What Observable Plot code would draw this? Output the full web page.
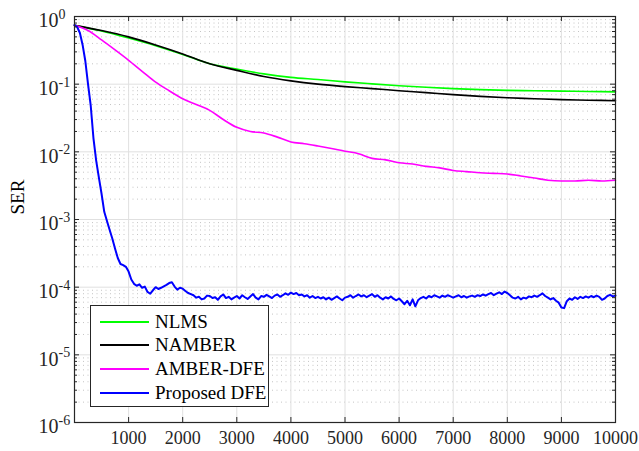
<!DOCTYPE html>
<html><head><meta charset="utf-8">
<script src="https://cdn.jsdelivr.net/npm/d3@7"></script>
<script src="https://cdn.jsdelivr.net/npm/@observablehq/plot@0.6"></script>
<style>
body{margin:0;background:#fff;}
#wrap{position:relative;width:639px;height:451px;font-family:"Liberation Serif","Times New Roman",serif;}
#legend{position:absolute;left:90px;top:305px;width:177px;height:100px;border:1px solid #262626;background:#fff;box-sizing:content-box;}
.row{position:absolute;left:0;height:24px;display:flex;align-items:center;font-size:19px;color:#000;font-family:"Liberation Serif","Times New Roman",serif;}
.sw{display:inline-block;width:49px;margin-left:9px;margin-right:6px;}
</style></head>
<body><div id="wrap"></div>
<script>
// ---- data ----
const seriesNames = ["NLMS","NAMBER","AMBER-DFE","Proposed DFE"];
const seriesColors = ["#00ff00","#000000","#ff00ff","#0000ff"];

const nlmsX = [0,500,1000,1500,2000,2500,3000,3500,4000,4500,5000,5500,6000,6500,7000,7500,8000,8500,9000,9500,10000];
const nlmsY = [0.74,0.61,0.48,0.37,0.275,0.20,0.167,0.142,0.126,0.117,0.108,0.101,0.095,0.090,0.086,0.083,0.081,0.080,0.079,0.078,0.077];

const namberX = [0,500,1000,1500,2000,2500,3000,3500,4000,4500,5000,5500,6000,6500,7000,7500,8000,8500,9000,9500,10000];
const namberY = [0.74,0.62,0.50,0.38,0.28,0.20,0.160,0.130,0.112,0.100,0.092,0.086,0.080,0.075,0.070,0.066,0.063,0.061,0.059,0.058,0.057];

const amberX = [0,250,500,750,1000,1250,1500,1750,2000,2250,2500,2750,3000,3250,3500,3750,4000,4250,4500,4750,5000,5250,5500,5750,6000,6250,6500,6750,7000,7250,7500,7750,8000,8250,8500,8750,9000,9250,9500,9750,10000];
const amberY = [0.74,0.62,0.45,0.32,0.225,0.155,0.107,0.080,0.061,0.050,0.041,0.030,0.023,0.020,0.019,0.0165,0.014,0.0132,0.0122,0.0112,0.0102,0.0094,0.0080,0.0076,0.0069,0.0066,0.0061,0.0058,0.0053,0.0051,0.0049,0.0048,0.0047,0.0044,0.0041,0.0038,0.0037,0.0037,0.0038,0.0037,0.0038];

const propHeadX = [0,50,100,150,200,250,300,350,400,450,500,550,600,650,700,750,800,850,900,950,1000,1050,1100,1150,1200,1250,1300,1350,1400,1450,1500,1550,1600,1650,1700,1750,1800,1850,1900,1950,2000];
const propHeadY = [0.75,0.70,0.57,0.38,0.22,0.10,0.048,0.016,0.0075,0.0042,0.0024,0.0013,0.00095,0.0007,0.00052,0.00037,0.00027,0.00022,0.000212,0.0002,0.00017,0.00013,0.000112,0.000105,0.00011,0.000098,0.000102,0.000085,0.00008,0.00009,0.0001,0.000094,0.000098,0.000103,0.000108,0.000115,0.000118,0.000102,0.000092,0.000098,0.000095];
const propTailX = d3.range(2050, 10001, 50);
const propTailY = [
8.8e-5,8.2e-5,7.9e-5,7.6e-5,7.0e-5,7.2e-5,6.6e-5,6.8e-5,7.5e-5,7.4e-5,6.9e-5,7.1e-5,6.5e-5,7.3e-5,7.8e-5,6.9e-5,7.2e-5,6.6e-5,7.0e-5,7.4e-5,
6.8e-5,7.6e-5,7.1e-5,6.7e-5,7.3e-5,7.9e-5,7.0e-5,6.6e-5,7.4e-5,7.2e-5,7.7e-5,7.3e-5,6.9e-5,7.5e-5,7.8e-5,7.2e-5,7.6e-5,8.1e-5,7.7e-5,8.3e-5,
7.9e-5,8.2e-5,7.6e-5,7.8e-5,7.3e-5,7.6e-5,7.0e-5,7.4e-5,6.9e-5,7.2e-5,6.8e-5,7.1e-5,6.6e-5,7.0e-5,6.5e-5,6.9e-5,7.3e-5,6.8e-5,6.4e-5,7.0e-5,
7.2e-5,7.6e-5,7.0e-5,7.4e-5,7.8e-5,7.3e-5,7.6e-5,7.1e-5,7.5e-5,7.9e-5,7.2e-5,7.6e-5,7.0e-5,6.6e-5,7.1e-5,6.8e-5,7.3e-5,6.7e-5,6.4e-5,6.8e-5,
6.2e-5,5.6e-5,6.3e-5,5.4e-5,6.6e-5,5.2e-5,6.4e-5,6.9e-5,7.2e-5,6.8e-5,7.4e-5,7.1e-5,7.6e-5,7.3e-5,7.0e-5,7.5e-5,7.2e-5,7.6e-5,7.3e-5,7.0e-5,
7.3e-5,7.6e-5,7.1e-5,7.4e-5,7.0e-5,7.3e-5,7.5e-5,7.2e-5,7.6e-5,7.4e-5,7.8e-5,7.5e-5,7.9e-5,8.2e-5,7.6e-5,8.0e-5,8.4e-5,7.9e-5,8.6e-5,8.2e-5,
7.6e-5,7.0e-5,6.8e-5,7.2e-5,6.6e-5,7.0e-5,6.8e-5,7.3e-5,7.1e-5,7.5e-5,7.2e-5,7.6e-5,8.1e-5,7.4e-5,7.0e-5,6.6e-5,6.9e-5,6.3e-5,5.9e-5,5.0e-5,
4.9e-5,6.2e-5,6.8e-5,6.5e-5,7.1e-5,6.7e-5,7.2e-5,6.9e-5,7.3e-5,7.0e-5,7.4e-5,7.1e-5,7.5e-5,7.2e-5,6.5e-5,6.8e-5,7.4e-5,7.7e-5,7.3e-5,7.5e-5];

const xTicks = [1000,2000,3000,4000,5000,6000,7000,8000,9000,10000];
const xGrid = [1000,2000,3000,4000,5000,6000,7000,8000,9000];
const yExponents = [0,-1,-2,-3,-4,-5,-6];
const yMinorMult = [2,3,4,5,6,7,8,9];

// ---- build ----
const W = 639, H = 451, mL = 74, mT = 16, mR = 24, mB = 29;
const pW = W - mL - mR, pH = H - mT - mB;
const toRows = (xs, ys) => xs.map((x, i) => ({x, y: ys[i]}));
const nlms = toRows(nlmsX, nlmsY), namber = toRows(namberX, namberY), amber = toRows(amberX, amberY);
const prop = toRows(propHeadX.concat(propTailX), propHeadY.concat(propTailY));
const yMajor = yExponents.map(e => Math.pow(10, e));
const yMinor = [];
for (const e of yExponents.slice(0, -1)) for (const m of yMinorMult) yMinor.push(m * Math.pow(10, e - 1));
const font = '"Liberation Serif","Times New Roman",serif';
const axisC = "#262626";

const chart = Plot.plot({
  width: W, height: H,
  marginLeft: mL, marginTop: mT, marginRight: mR, marginBottom: mB,
  style: {background: "#fff", fontFamily: font},
  x: {domain: [0, 10000], axis: null},
  y: {type: "log", domain: [1e-6, 1], axis: null},
  marks: [
    Plot.ruleY(yMinor, {y: d => d, stroke: "#c4c4c4", strokeDasharray: "1,3.5"}),
    Plot.ruleY(yMajor, {y: d => d, stroke: "#e0e0e0"}),
    Plot.ruleX(xGrid, {x: d => d, stroke: "#e0e0e0"}),
    Plot.line(nlms, {x: "x", y: "y", stroke: seriesColors[0], strokeWidth: 1.6, curve: "monotone-x"}),
    Plot.line(namber, {x: "x", y: "y", stroke: seriesColors[1], strokeWidth: 1.6, curve: "monotone-x"}),
    Plot.line(amber, {x: "x", y: "y", stroke: seriesColors[2], strokeWidth: 1.6, curve: "monotone-x"}),
    Plot.line(prop, {x: "x", y: "y", stroke: seriesColors[3], strokeWidth: 2}),
    Plot.frame({stroke: axisC, strokeWidth: 1.2}),
    Plot.tickX(xTicks, {x: d => d, insetTop: pH - 5, stroke: axisC}),
    Plot.tickX(xTicks, {x: d => d, insetBottom: pH - 5, stroke: axisC}),
    Plot.tickY(yMajor, {y: d => d, insetRight: pW - 5, stroke: axisC}),
    Plot.tickY(yMajor, {y: d => d, insetLeft: pW - 5, stroke: axisC}),
    Plot.tickY(yMinor, {y: d => d, insetRight: pW - 3, stroke: axisC}),
    Plot.tickY(yMinor, {y: d => d, insetLeft: pW - 3, stroke: axisC}),
    Plot.text(xTicks, {x: d => d, frameAnchor: "bottom", text: d => String(d), dy: 21, fontSize: 18, fill: "#262626", fontFamily: font}),
    Plot.text(yExponents, {y: d => Math.pow(10, d), frameAnchor: "left", text: () => "10", textAnchor: "end", dx: -16, dy: 4.5, fontSize: 20, fill: "#262626", fontFamily: font}),
    Plot.text(yExponents, {y: d => Math.pow(10, d), frameAnchor: "left", text: d => String(d), textAnchor: "start", dx: -16, dy: -2, fontSize: 14, fill: "#262626", fontFamily: font}),
    Plot.text(["SER"], {frameAnchor: "left", text: d => d, rotate: -90, dx: -57, dy: -5, fontSize: 19, fill: "#000", fontFamily: font})
  ]
});
const wrap = document.getElementById("wrap");
wrap.appendChild(chart);

// legend
const leg = document.createElement("div");
leg.id = "legend";
const rowTops = [4, 27, 51, 75];
seriesNames.forEach((n, i) => {
  const r = document.createElement("div");
  r.className = "row";
  r.style.top = rowTops[i] + "px";
  const sw = document.createElement("span");
  sw.className = "sw";
  sw.style.height = (i === 3 ? 2 : 1.6) + "px";
  sw.style.background = seriesColors[i];
  r.appendChild(sw);
  r.appendChild(document.createTextNode(n));
  leg.appendChild(r);
});
wrap.appendChild(leg);
</script></body></html>
